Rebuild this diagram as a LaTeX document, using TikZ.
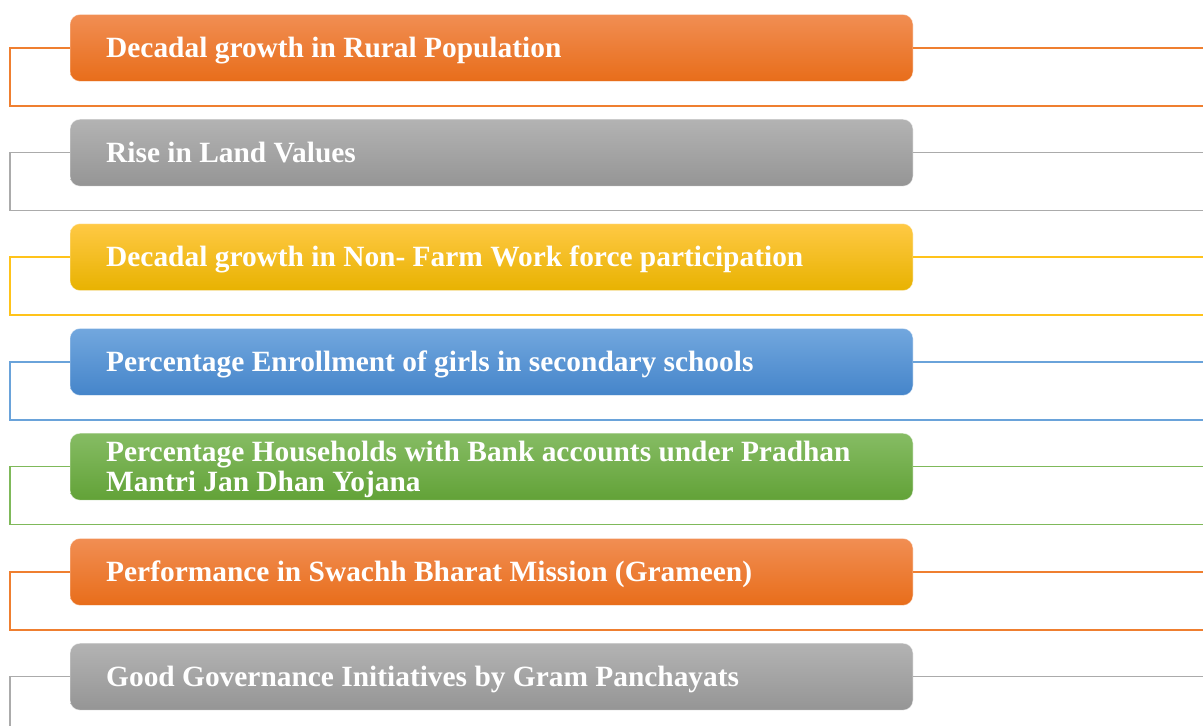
\documentclass[tikz,border=0pt]{standalone}
\usepackage{fontspec}
\setmainfont{Liberation Serif}
\definecolor{orTop}{HTML}{F18E53}\definecolor{orMid}{HTML}{F37E2A}\definecolor{orBot}{HTML}{E86D1A}\definecolor{orLine}{HTML}{EF7F30}
\definecolor{grTop}{HTML}{B3B3B3}\definecolor{grMid}{HTML}{A5A5A5}\definecolor{grBot}{HTML}{959595}\definecolor{grLine}{HTML}{ABABAB}
\definecolor{yeTop}{HTML}{FFC945}\definecolor{yeMid}{HTML}{FFC000}\definecolor{yeBot}{HTML}{E8B200}\definecolor{yeLine}{HTML}{FFC31A}
\definecolor{blTop}{HTML}{72A7DE}\definecolor{blMid}{HTML}{5B9BD5}\definecolor{blBot}{HTML}{4585CA}\definecolor{blLine}{HTML}{6AA3DA}
\definecolor{gnTop}{HTML}{86BC64}\definecolor{gnMid}{HTML}{70AD47}\definecolor{gnBot}{HTML}{62A237}\definecolor{gnLine}{HTML}{7FB95A}
\tikzset{
  bar/.style={rounded corners=10pt, minimum width=843pt, minimum height=67pt, inner sep=0pt,
    draw=white, draw opacity=0.5, line width=0.8pt},
  orangebar/.style={bar, top color=orTop, middle color=orMid, bottom color=orBot},
  greybar/.style={bar, top color=grTop, middle color=grMid, bottom color=grBot},
  yellowbar/.style={bar, top color=yeTop, middle color=yeMid, bottom color=yeBot},
  bluebar/.style={bar, top color=blTop, middle color=blMid, bottom color=blBot},
  greenbar/.style={bar, top color=gnTop, middle color=gnMid, bottom color=gnBot},
  label/.style={anchor=base west, inner sep=0pt, text=white, align=left,
    font=\bfseries\fontsize{29.4pt}{29.5pt}\selectfont},
  framelink/.style={line width=1.5pt}
}
\newcommand{\barframe}[2]{%
  \draw[framelink,draw=#2] (#1.west) -- ([xshift=-59.5pt]#1.west) -- ([xshift=-59.5pt,yshift=-58pt]#1.west) -- ([xshift=1200pt,yshift=-58pt]#1.west);
  \draw[framelink,draw=#2] (#1.east) -- ([xshift=320pt]#1.east);}
\begin{document}
\begin{tikzpicture}[x=1pt,y=-1pt]
\useasboundingbox (0,0) rectangle (1203,726);
\clip (0,0) rectangle (1203,726);
% bars
\node[orangebar] (b1) at (491.5,47.9) {};
\node[greybar]   (b2) at (491.5,152.7) {};
\node[yellowbar] (b3) at (491.5,257.1) {};
\node[bluebar]   (b4) at (491.5,361.9) {};
\node[greenbar]  (b5) at (491.5,466.7) {};
\node[orangebar] (b6) at (491.5,571.9) {};
\node[greybar]   (b7) at (491.5,676.7) {};
% frames
\barframe{b1}{orLine}
\barframe{b2}{grLine}
\barframe{b3}{yeLine}
\barframe{b4}{blLine}
\barframe{b5}{gnLine}
\barframe{b6}{orLine}
\barframe{b7}{grLine}
% labels
\node[label] (t1) at (106,57.5) {Decadal growth in Rural Population};
\node[label] (t2) at (106,162.3) {Rise in Land Values};
\node[label] (t3) at (106,266.9) {Decadal growth in Non- Farm Work force participation};
\node[label] (t4) at (106,371.7) {Percentage Enrollment of girls in secondary schools};
\node[label] (t5) at (106,491.3) {Percentage Households with Bank accounts under Pradhan\\Mantri Jan Dhan Yojana};
\node[label] (t6) at (106,581.5) {Performance in Swachh Bharat Mission (Grameen)};
\node[label] (t7) at (106,686.3) {Good Governance Initiatives by Gram Panchayats};
\end{tikzpicture}
\end{document}
